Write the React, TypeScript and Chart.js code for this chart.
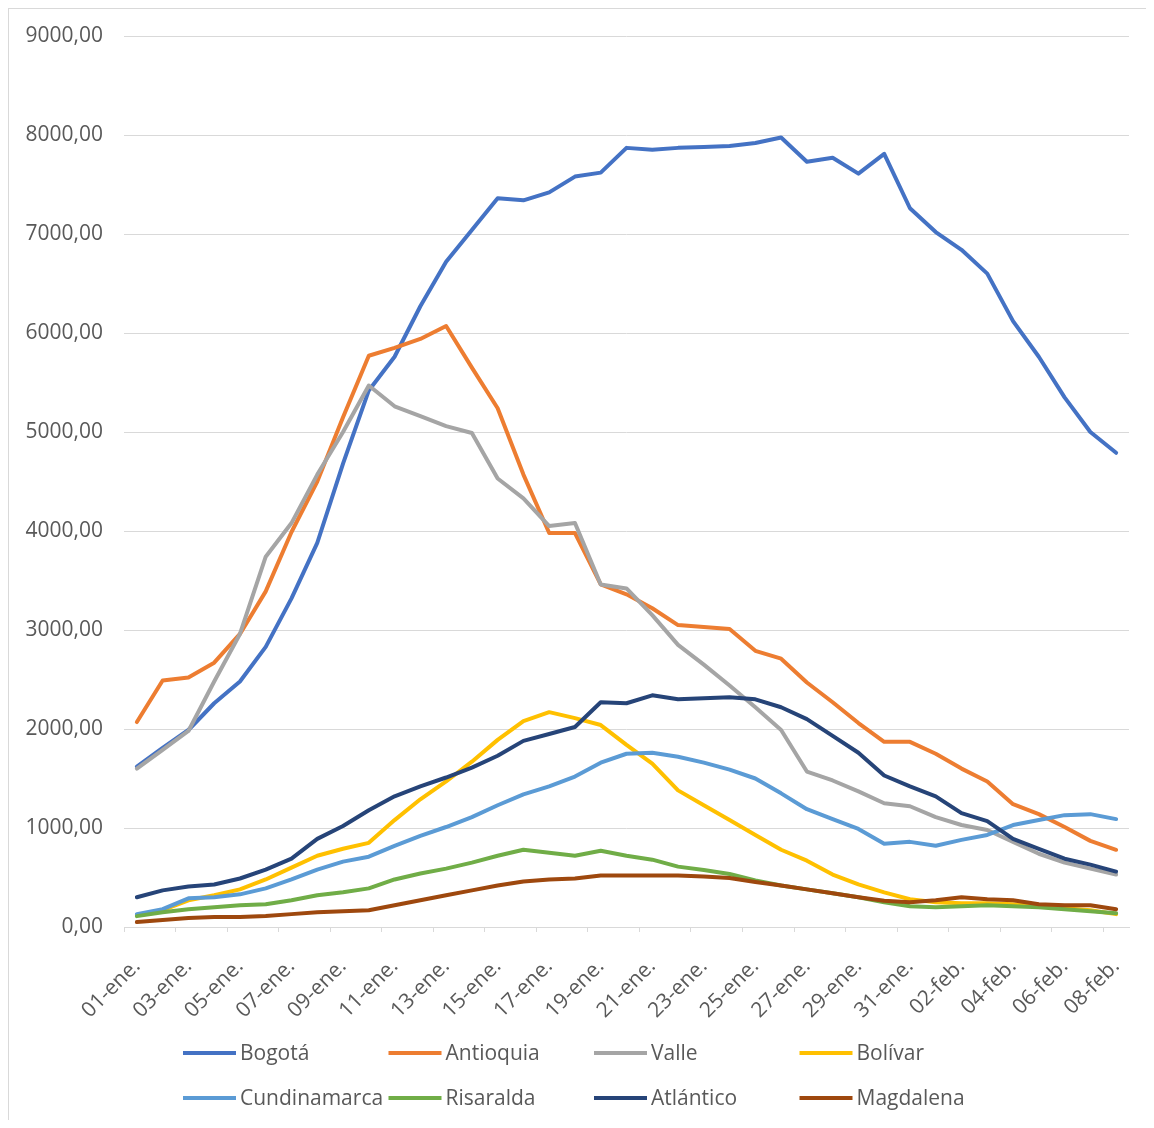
import { useEffect, useRef } from 'react';
import { Chart, registerables } from 'chart.js';

Chart.register(...registerables);

const categories = [
  '01-ene.', '02-ene.', '03-ene.', '04-ene.', '05-ene.', '06-ene.', '07-ene.', '08-ene.', '09-ene.', '10-ene.',
  '11-ene.', '12-ene.', '13-ene.', '14-ene.', '15-ene.', '16-ene.', '17-ene.', '18-ene.', '19-ene.', '20-ene.',
  '21-ene.', '22-ene.', '23-ene.', '24-ene.', '25-ene.', '26-ene.', '27-ene.', '28-ene.', '29-ene.', '30-ene.',
  '31-ene.', '01-feb.', '02-feb.', '03-feb.', '04-feb.', '05-feb.', '06-feb.', '07-feb.', '08-feb.',
];

const seriesNames = ['Bogotá', 'Antioquia', 'Valle', 'Bolívar', 'Cundinamarca', 'Risaralda', 'Atlántico', 'Magdalena'];
const seriesColors = ['#4472C4', '#ED7D31', '#A5A5A5', '#FFC000', '#5B9BD5', '#70AD47', '#264478', '#9E480E'];

const bogota = [1620, 1810, 1990, 2260, 2480, 2830, 3320, 3880, 4680, 5420, 5760, 6270, 6720, 7040, 7360, 7340, 7420, 7580, 7620, 7870, 7850, 7870, 7880, 7890, 7920, 7975, 7730, 7770, 7610, 7810, 7260, 7020, 6840, 6600, 6120, 5760, 5350, 5000, 4790];
const antioquia = [2070, 2490, 2520, 2670, 2960, 3390, 3990, 4500, 5150, 5770, 5850, 5940, 6070, 5650, 5240, 4570, 3980, 3980, 3460, 3360, 3220, 3050, 3030, 3010, 2790, 2710, 2470, 2270, 2060, 1870, 1870, 1750, 1600, 1470, 1240, 1140, 1010, 870, 780];
const valle = [1600, 1790, 1980, 2480, 2960, 3740, 4080, 4570, 5000, 5470, 5260, 5160, 5060, 4990, 4530, 4330, 4050, 4080, 3460, 3420, 3150, 2850, 2650, 2440, 2220, 1990, 1570, 1480, 1370, 1250, 1220, 1110, 1030, 980, 860, 740, 650, 590, 530];
const bolivar = [120, 170, 270, 320, 380, 480, 600, 720, 790, 850, 1080, 1290, 1470, 1670, 1890, 2080, 2170, 2110, 2040, 1840, 1650, 1380, 1230, 1080, 930, 780, 670, 530, 430, 350, 280, 250, 240, 240, 230, 210, 190, 170, 130];
const cundinamarca = [130, 180, 290, 300, 330, 390, 480, 580, 660, 710, 820, 920, 1010, 1110, 1230, 1340, 1420, 1520, 1660, 1750, 1760, 1720, 1660, 1590, 1500, 1350, 1190, 1090, 990, 840, 860, 820, 880, 930, 1030, 1080, 1130, 1140, 1090];
const risaralda = [110, 150, 180, 200, 220, 230, 270, 320, 350, 390, 480, 540, 590, 650, 720, 780, 750, 720, 770, 720, 680, 610, 575, 535, 470, 420, 380, 340, 300, 250, 210, 200, 210, 220, 210, 200, 180, 160, 140];
const atlantico = [300, 370, 410, 430, 490, 580, 690, 890, 1020, 1180, 1320, 1420, 1510, 1610, 1730, 1880, 1950, 2020, 2270, 2260, 2340, 2300, 2310, 2320, 2300, 2220, 2100, 1930, 1760, 1530, 1420, 1320, 1150, 1070, 890, 790, 690, 630, 560];
const magdalena = [50, 70, 90, 100, 100, 110, 130, 150, 160, 170, 220, 270, 320, 370, 420, 460, 480, 490, 520, 520, 520, 520, 510, 495, 455, 420, 380, 340, 300, 265, 250, 270, 300, 280, 270, 230, 220, 220, 180];

const seriesValues = [bogota, antioquia, valle, bolivar, cundinamarca, risaralda, atlantico, magdalena];

const yMin = 0;
const yMax = 9000;
const yStep = 1000;

const FONT = '"Open Sans", "Liberation Sans", sans-serif';
const TEXT_COLOR = '#595959';
const GRID_COLOR = '#d9d9d9';

export default function App() {
  const canvasRef = useRef<HTMLCanvasElement>(null);

  useEffect(() => {
    if (!canvasRef.current) return;

    const gridLegend = {
      id: 'gridLegend',
      afterDraw(chart: any) {
        const ctx = chart.ctx;
        ctx.save();
        ctx.font = `21px ${FONT}`;
        ctx.textBaseline = 'middle';
        ctx.textAlign = 'left';
        chart.data.datasets.forEach((ds: any, i: number) => {
          const col = i % 4;
          const row = Math.floor(i / 4);
          const x = 174 + col * 205.5;
          const y = 1044 + row * 45;
          ctx.strokeStyle = ds.borderColor;
          ctx.lineWidth = 4;
          ctx.lineCap = 'butt';
          ctx.beginPath();
          ctx.moveTo(x, y);
          ctx.lineTo(x + 53, y);
          ctx.stroke();
          ctx.fillStyle = TEXT_COLOR;
          ctx.fillText(ds.label, x + 57, y + 1);
        });
        ctx.restore();
      },
    };

    const chart = new Chart(canvasRef.current, {
      type: 'line',
      data: {
        labels: categories,
        datasets: seriesNames.map((name, i) => ({
          label: name,
          data: seriesValues[i],
          borderColor: seriesColors[i],
          backgroundColor: seriesColors[i],
          borderWidth: 4,
          pointRadius: 0,
          pointHoverRadius: 0,
          tension: 0,
          fill: false,
          borderJoinStyle: 'round' as const,
          borderCapStyle: 'round' as const,
          order: seriesNames.length - i,
        })),
      },
      options: {
        animation: false,
        responsive: true,
        maintainAspectRatio: false,
        layout: { padding: { top: 27, right: 17, bottom: 78, left: 0 } },
        plugins: {
          legend: { display: false },
          tooltip: { enabled: false },
        },
        scales: {
          x: {
            type: 'category',
            offset: true,
            afterFit(scale: any) {
              scale.height = 115;
              scale.paddingRight = 0;
              scale.paddingLeft = 0;
            },
            border: { display: true, color: GRID_COLOR, width: 1 },
            grid: {
              offset: true,
              drawOnChartArea: false,
              drawTicks: true,
              tickLength: 5,
              color: (ctx: any) => (ctx.index % 2 === 0 ? GRID_COLOR : 'rgba(0,0,0,0)'),
            },
            ticks: {
              autoSkip: false,
              minRotation: 45,
              maxRotation: 45,
              padding: 22,
              labelOffset: 0,
              color: TEXT_COLOR,
              font: { family: FONT, size: 21 },
              callback: (_v: any, i: number) => (i % 2 === 0 ? categories[i] : ''),
            },
          },
          y: {
            min: yMin,
            max: yMax,
            afterFit(scale: any) {
              scale.width = 115;
              scale.paddingTop = 0;
              scale.paddingBottom = 0;
            },
            border: { display: false },
            grid: { color: GRID_COLOR, lineWidth: 1, drawTicks: false },
            ticks: {
              stepSize: yStep,
              padding: 21,
              color: TEXT_COLOR,
              font: { family: FONT, size: 21 },
              callback: (v: any) => Number(v).toFixed(2).replace('.', ','),
            },
          },
        },
      },
      plugins: [gridLegend],
    });

    return () => chart.destroy();
  }, []);

  return (
    <div
      style={{
        width: 1138,
        height: 1112,
        boxSizing: 'border-box',
        borderLeft: `1px solid ${GRID_COLOR}`,
        borderTop: `1px solid ${GRID_COLOR}`,
        position: 'relative',
        background: '#fff',
      }}
    >
      <canvas ref={canvasRef} />
    </div>
  );
}
